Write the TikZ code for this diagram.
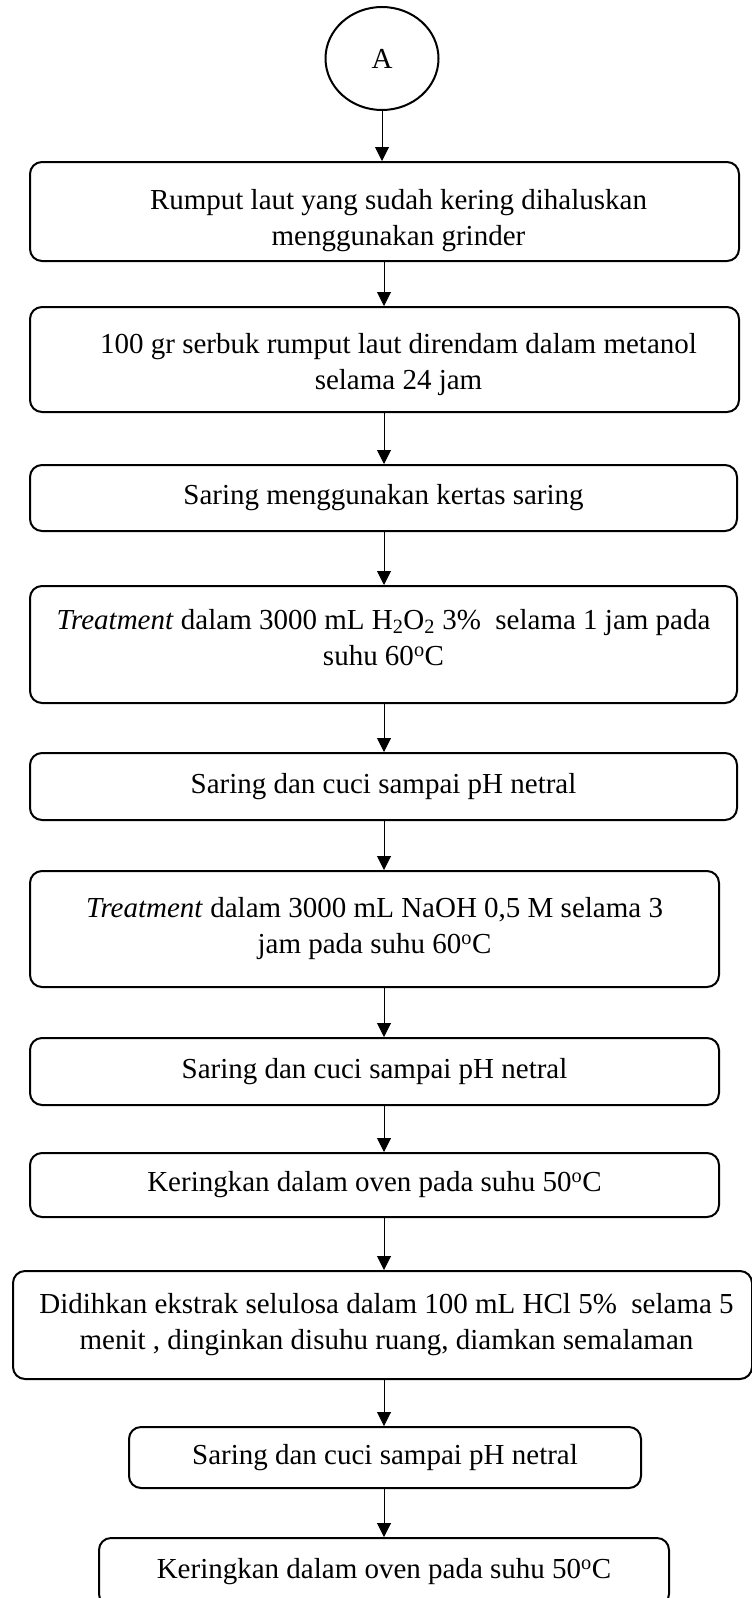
\documentclass[tikz,border=0pt]{standalone}
\usepackage{fontspec}
\setmainfont{Liberation Serif}
\usetikzlibrary{shapes.geometric,arrows.meta}

\begin{document}
\begin{tikzpicture}
      [x=1pt,y=-1pt,inner sep=1mm,
       proses/.style={rectangle,rounded corners=12pt,draw=black,line width=2pt,
         align=center,font=\fontsize{29}{36}\selectfont},
       mulai/.style={ellipse,draw=black,line width=2pt,minimum width=113pt,
         minimum height=103pt,font=\fontsize{29}{36}\selectfont},
       panah/.style={line width=1pt,-{Triangle[length=14pt,width=14pt]}}]
      \useasboundingbox (0,0) rectangle (752,1598);
      \coordinate (kol) at (384,0);
      \node at (382,58.5) (a) [mulai] {A};
      \node at (384.5,211.5) (p1) [proses,minimum width=709pt,minimum height=99pt]
        {\rule{0pt}{38pt}\hspace*{28pt}Rumput laut yang sudah kering dihaluskan\\
         \hspace*{28pt}menggunakan grinder};
      \node at (384.5,359.5) (p2) [proses,minimum width=709pt,minimum height=105pt]
        {\rule{0pt}{30pt}\hspace*{28pt}100 gr serbuk rumput laut direndam dalam metanol\\
         \hspace*{28pt}selama 24 jam};
      \node at (383.5,498) (p3) [proses,minimum width=707pt,minimum height=66pt]
        {Saring menggunakan kertas saring};
      \node at (383.5,644.5) (p4) [proses,minimum width=707pt,minimum height=117pt]
        {\textit{Treatment} dalam 3000 mL H\textsubscript{2}O\textsubscript{2} 3\%~ selama 1 jam pada\\
         suhu 60\textsuperscript{o}C\rule[-15pt]{0pt}{15pt}};
      \node at (383.5,786.5) (p5) [proses,minimum width=707pt,minimum height=67pt]
        {Saring dan cuci sampai pH netral};
      \node at (374.5,929) (p6) [proses,minimum width=689pt,minimum height=116pt]
        {\textit{Treatment} dalam 3000 mL NaOH 0,5 M selama 3\\
         jam pada suhu 60\textsuperscript{o}C};
      \node at (374.5,1071.5) (p7) [proses,minimum width=689pt,minimum height=67pt]
        {Saring dan cuci sampai pH netral};
      \node at (374.5,1185) (p8) [proses,minimum width=689pt,minimum height=64pt]
        {Keringkan dalam oven pada suhu 50\textsuperscript{o}C};
      \node at (382.5,1325) (p9) [proses,minimum width=739pt,minimum height=108pt]
        {\hspace*{8pt}Didihkan ekstrak selulosa dalam 100 mL HCl 5\%~ selama 5\\
         \hspace*{8pt}menit , dinginkan disuhu ruang, diamkan semalaman};
      \node at (385,1457.5) (p10) [proses,minimum width=512pt,minimum height=61pt]
        {Saring dan cuci sampai pH netral};
      \node at (384,1572) (p11) [proses,minimum width=570pt,minimum height=68pt]
        {Keringkan dalam oven pada suhu 50\textsuperscript{o}C};
      \draw [panah] (a.south) -- (p1.north -| a.south);
      \foreach \i [count=\j from 2] in {1,...,10}
        \draw [panah] (p\i.south -| kol) -- (p\j.north -| kol);
\end{tikzpicture}
\end{document}
